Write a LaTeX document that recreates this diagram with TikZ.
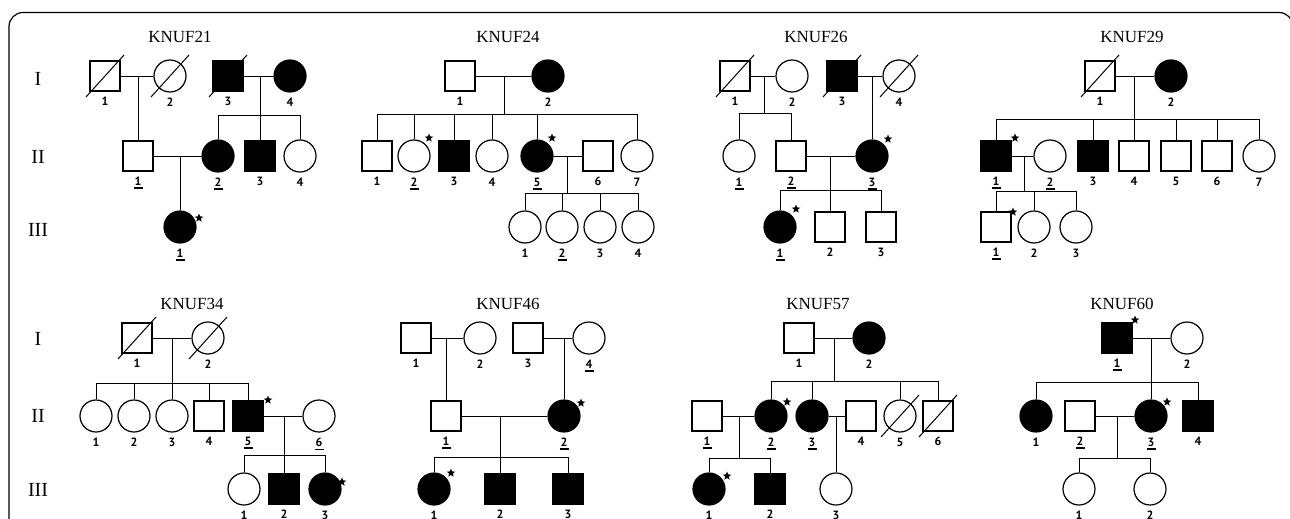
\documentclass[tikz,border=0pt]{standalone}
\usepackage{fontspec}
\setmainfont{Liberation Serif}
\newfontfamily\numfam{PT Sans}
\usetikzlibrary{shapes.geometric}
\newcommand\numfont{\numfam\bfseries\fontsize{12}{12}\selectfont}
\newcommand\titfont{\fontsize{17}{18}\selectfont}
\newcommand\genfont{\fontsize{20}{21}\selectfont}
\newcommand\ul[1]{\vtop{\offinterlineskip\halign{\hfil##\hfil\cr #1\cr\noalign{\kern2pt}\vrule width 9pt height 1.6pt\cr}}}
\tikzset{
  sym/.style={draw, line width=1.2pt, inner sep=0pt},
  M/.style={sym, rectangle, minimum size=30pt},
  F/.style={sym, circle, minimum size=32pt},
  aff/.style={fill=black},
  con/.style={line width=1pt},
  lab/.style={font=\numfont, inner sep=0pt, label distance=5pt},
  tit/.style={font=\titfont, inner sep=0pt},
  gen/.style={font=\genfont, inner sep=0pt},
  prob/.style={star, star points=5, star point ratio=2.3, minimum size=9pt, fill=black, inner sep=0pt},
}
\newcommand\person[5]{\node[#1,label={[lab]below:#5}] (#2) at (#3,#4) {};}
\newcommand\deceased[1]{\draw[con] ([shift={(-19,21)}]#1.center) -- ([shift={(19,-21)}]#1.center);}
\newcommand\proband[3]{\node[prob] (#1s) at ([shift={(#2,#3)}]#1.center) {};}
\newcommand\kids[2]{\foreach \k in {#2} \draw[con] (\k.north) |- (#1);}
\begin{document}
\begin{tikzpicture}[x=1pt,y=-1pt]
\useasboundingbox (0,0) rectangle (1290,519);
\clip (0,0) rectangle (1290,519);
\draw[line width=1.2pt, rounded corners=14pt] (9,12.5) rectangle (1293,560);

% generation labels
\node[gen] (g1a) at (38,79) {I};
\node[gen] (g2a) at (38,157) {II};
\node[gen] (g3a) at (38,230) {III};
\node[gen] (g1b) at (38,339) {I};
\node[gen] (g2b) at (38,416) {II};
\node[gen] (g3b) at (38,490) {III};

%================ KNUF21
\node[tit] (t21) at (180,37) {KNUF21};
\person{M}{a11}{105}{76}{1}
\person{F}{a12}{170}{76}{2}
\person{M,aff}{a13}{228}{76}{3}
\person{F,aff}{a14}{290}{76}{4}
\deceased{a11}\deceased{a12}\deceased{a13}
\person{M}{a21}{138}{156}{\ul{1}}
\person{F,aff}{a22}{218}{156}{\ul{2}}
\person{M,aff}{a23}{260}{156}{3}
\person{F}{a24}{300}{156}{4}
\person{F,aff}{a31}{180}{227}{\ul{1}}
\proband{a31}{19}{-9}
\draw[con] (a11.east) -- (a12.west);
\draw[con] (a13.east) -- (a14.west);
\draw[con] (a21.east) -- (a22.west);
\coordinate (am1) at (138,76);
\draw[con] (am1) -- (a21.north);
\coordinate (am2) at (260,76);
\coordinate (as2) at (260,115);
\draw[con] (am2) -- (as2);
\kids{as2}{a22,a23,a24}
\coordinate (am3) at (180,156);
\draw[con] (am3) -- (a31.north);

%================ KNUF24
\node[tit] (t24) at (508,37) {KNUF24};
\person{M}{b11}{460}{76}{1}
\person{F,aff}{b12}{548}{76}{2}
\person{M}{b21}{377}{156}{1}
\person{F}{b22}{414}{156}{\ul{2}}
\person{M,aff}{b23}{454}{156}{3}
\person{F}{b24}{492}{156}{4}
\person{F,aff}{b25}{537}{156}{\ul{5}}
\person{M}{b26}{598}{156}{6}
\person{F}{b27}{637}{156}{7}
\proband{b22}{15}{-18}
\proband{b25}{15}{-18}
\person{F}{b31}{525}{227}{1}
\person{F}{b32}{562}{227}{\ul{2}}
\person{F}{b33}{600}{227}{3}
\person{F}{b34}{638}{227}{4}
\draw[con] (b11.east) -- (b12.west);
\coordinate (bm1) at (504,76);
\coordinate (bs1) at (504,114);
\draw[con] (bm1) -- (bs1);
\kids{bs1}{b21,b22,b23,b24,b25,b27}
\draw[con] (b25.east) -- (b26.west);
\coordinate (bm2) at (567,156);
\coordinate (bs2) at (567,193);
\draw[con] (bm2) -- (bs2);
\kids{bs2}{b31,b32,b33,b34}

%================ KNUF26
\node[tit] (t26) at (816,37) {KNUF26};
\person{M}{c11}{735}{76}{1}
\person{F}{c12}{792}{76}{2}
\person{M,aff}{c13}{842}{76}{3}
\person{F}{c14}{899}{76}{4}
\deceased{c11}\deceased{c13}\deceased{c14}
\person{F}{c21}{739}{156}{\ul{1}}
\person{M}{c22}{791}{156}{\ul{2}}
\person{F,aff}{c23}{872}{156}{\ul{3}}
\proband{c23}{16}{-17}
\person{F,aff}{c31}{780}{227}{\ul{1}}
\person{M}{c32}{830}{227}{2}
\person{M}{c33}{881}{227}{3}
\proband{c31}{16}{-18}
\draw[con] (c11.east) -- (c12.west);
\draw[con] (c13.east) -- (c14.west);
\draw[con] (c22.east) -- (c23.west);
\coordinate (cm1) at (764,76);
\coordinate (cs1) at (764,113);
\draw[con] (cm1) -- (cs1);
\kids{cs1}{c21,c22}
\coordinate (cm2) at (872,76);
\draw[con] (cm2) -- (c23.north);
\coordinate (cm3) at (830,156);
\coordinate (cs3) at (830,190);
\draw[con] (cm3) -- (cs3);
\kids{cs3}{c31,c32,c33}

%================ KNUF29
\node[tit] (t29) at (1132,37) {KNUF29};
\person{M}{d11}{1100}{76}{1}
\person{F,aff}{d12}{1171}{76}{2}
\deceased{d11}
\person{M,aff}{d21}{996}{156}{\ul{1}}
\person{F}{d22}{1050}{156}{\ul{2}}
\person{M,aff}{d23}{1093}{156}{3}
\person{M}{d24}{1134}{156}{4}
\person{M}{d25}{1176}{156}{5}
\person{M}{d26}{1217}{156}{6}
\person{F}{d27}{1259}{156}{7}
\proband{d21}{19}{-18}
\person{M}{d31}{996}{227}{\ul{1}}
\person{F}{d32}{1034}{227}{2}
\person{F}{d33}{1076}{227}{3}
\proband{d31}{17}{-15}
\draw[con] (d11.east) -- (d12.west);
\coordinate (dm1) at (1134,76);
\coordinate (ds1) at (1134,119);
\draw[con] (dm1) -- (ds1);
\kids{ds1}{d21,d23,d24,d25,d26,d27}
\draw[con] (d21.east) -- (d22.west);
\coordinate (dm2) at (1024,156);
\coordinate (ds2) at (1024,191);
\draw[con] (dm2) -- (ds2);
\kids{ds2}{d31,d32,d33}

%================ KNUF34
\node[tit] (t34) at (192,304) {KNUF34};
\person{M}{e11}{137}{338}{1}
\person{F}{e12}{208}{338}{2}
\deceased{e11}\deceased{e12}
\person{F}{e21}{96}{416}{1}
\person{F}{e22}{134}{416}{2}
\person{F}{e23}{172}{416}{3}
\person{M}{e24}{209}{416}{4}
\person{M,aff}{e25}{248}{416}{\ul{5}}
\person{F}{e26}{319}{416}{\ul{6}}
\proband{e25}{20}{-16}
\person{F}{e31}{244}{489}{1}
\person{M,aff}{e32}{284}{489}{2}
\person{F,aff}{e33}{325}{489}{\ul{3}}
\proband{e33}{17}{-7}
\draw[con] (e11.east) -- (e12.west);
\coordinate (em1) at (172,338);
\coordinate (es1) at (172,383);
\draw[con] (em1) -- (es1);
\kids{es1}{e21,e22,e23,e24,e25}
\draw[con] (e25.east) -- (e26.west);
\coordinate (em2) at (284,416);
\coordinate (es2) at (284,455);
\draw[con] (em2) -- (es2);
\kids{es2}{e31,e32,e33}

%================ KNUF46
\node[tit] (t46) at (508,304) {KNUF46};
\person{M}{f11}{416}{338}{1}
\person{F}{f12}{480}{338}{2}
\person{M}{f13}{528}{338}{3}
\person{F}{f14}{589}{338}{\ul{4}}
\person{M}{f21}{446}{416}{\ul{1}}
\person{F,aff}{f22}{564}{416}{\ul{2}}
\proband{f22}{17}{-13}
\person{F,aff}{f31}{434}{489}{1}
\person{M,aff}{f32}{500}{489}{2}
\person{M,aff}{f33}{568}{489}{3}
\proband{f31}{17}{-16}
\draw[con] (f11.east) -- (f12.west);
\draw[con] (f13.east) -- (f14.west);
\draw[con] (f21.east) -- (f22.west);
\coordinate (fm1) at (446,338);
\draw[con] (fm1) -- (f21.north);
\coordinate (fm2) at (564,338);
\draw[con] (fm2) -- (f22.north);
\coordinate (fm3) at (500,416);
\coordinate (fs3) at (500,457);
\draw[con] (fm3) -- (fs3);
\kids{fs3}{f31,f32,f33}

%================ KNUF57
\node[tit] (t57) at (818,304) {KNUF57};
\person{M}{g11}{799}{338}{1}
\person{F,aff}{g12}{869}{338}{2}
\person{M}{g21}{707}{416}{\ul{1}}
\person{F,aff}{g22}{771}{416}{\ul{2}}
\person{F,aff}{g23}{812}{416}{\ul{3}}
\person{M}{g24}{861}{416}{4}
\person{F}{g25}{900}{416}{5}
\person{M}{g26}{938}{416}{6}
\deceased{g25}\deceased{g26}
\proband{g22}{16}{-14}
\person{F,aff}{g31}{709}{489}{\ul{1}}
\person{M,aff}{g32}{770}{489}{\ul{2}}
\person{F}{g33}{836}{489}{3}
\proband{g31}{18}{-13}
\draw[con] (g11.east) -- (g12.west);
\coordinate (gm1) at (834,338);
\coordinate (gs1) at (834,381);
\draw[con] (gm1) -- (gs1);
\kids{gs1}{g22,g23,g25,g26}
\draw[con] (g21.east) -- (g22.west);
\draw[con] (g23.east) -- (g24.west);
\coordinate (gm2) at (739,416);
\coordinate (gs2) at (739,458);
\draw[con] (gm2) -- (gs2);
\kids{gs2}{g31,g32}
\coordinate (gm3) at (836,416);
\draw[con] (gm3) -- (g33.north);

%================ KNUF60
\node[tit] (t60) at (1122,304) {KNUF60};
\person{M,aff}{h11}{1117}{338}{\ul{1}}
\person{F}{h12}{1187}{338}{2}
\proband{h11}{18}{-18}
\person{F,aff}{h21}{1036}{416}{1}
\person{M}{h22}{1080}{416}{\ul{2}}
\person{F,aff}{h23}{1151}{416}{\ul{3}}
\person{M,aff}{h24}{1198}{416}{4}
\proband{h23}{16}{-14}
\person{F}{h31}{1079}{489}{\ul{1}}
\person{F}{h32}{1150}{489}{2}
\draw[con] (h11.east) -- (h12.west);
\coordinate (hm1) at (1151,338);
\coordinate (hs1) at (1151,382);
\draw[con] (hm1) -- (hs1);
\kids{hs1}{h21,h23,h24}
\draw[con] (h22.east) -- (h23.west);
\coordinate (hm2) at (1117,416);
\coordinate (hs2) at (1117,458);
\draw[con] (hm2) -- (hs2);
\kids{hs2}{h31,h32}
\end{tikzpicture}
\end{document}
